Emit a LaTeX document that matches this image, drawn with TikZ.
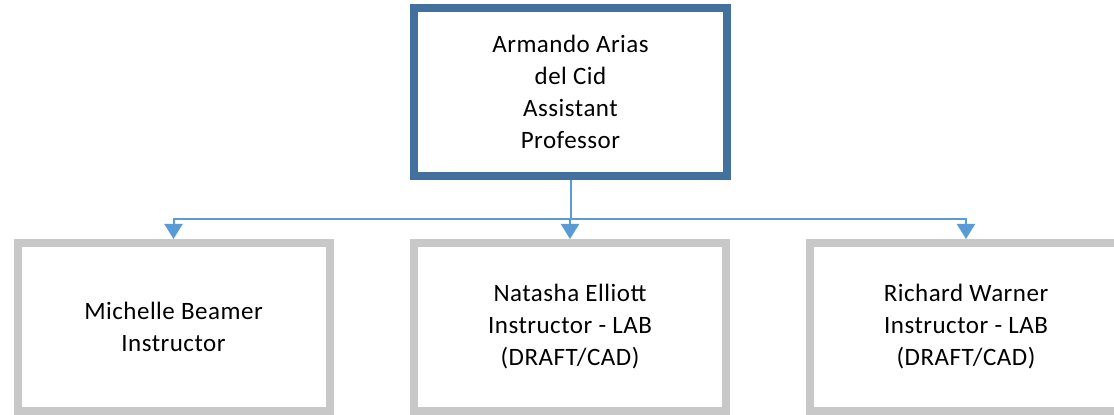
\documentclass[tikz,border=0pt]{standalone}
\usepackage{fontspec}
\setmainfont{Carlito}[LetterSpace=2]
\usetikzlibrary{arrows.meta}
\definecolor{topblue}{RGB}{65,113,156}
\definecolor{linkblue}{RGB}{91,155,213}
\definecolor{boxgray}{RGB}{200,200,200}
\tikzset{
  x=1pt, y=1pt,
  txt/.style={align=center, font=\fontsize{25}{32}\selectfont, text=black},
  headbox/.style={txt, draw=topblue, line width=8pt, fill=white, minimum width=313pt, minimum height=168pt, inner sep=0pt},
  staffbox/.style={txt, draw=boxgray, line width=8pt, fill=white, minimum width=312pt, minimum height=168pt, inner sep=0pt},
  link/.style={draw=linkblue, line width=2pt, -{Triangle[width=18pt,length=15pt]}}
}
\begin{document}
\begin{tikzpicture}
\useasboundingbox (0,0) rectangle (1114,415);
\clip (0,0) rectangle (1114,415);
\fill[white] (0,0) rectangle (1114,415);
\node[headbox] (head) at (570.5,323) {Armando Arias\\del Cid\\Assistant\\Professor};
\node[staffbox] (c1) at (173.5,88) {Michelle Beamer\\Instructor};
\node[staffbox] (c2) at (570,88) {Natasha Elliott\\Instructor - LAB\\(DRAFT/CAD)};
\node[staffbox] (c3) at (966,88) {Richard Warner\\Instructor - LAB\\(DRAFT/CAD)};
\coordinate (bus) at (head.south |- 0,196);
\draw[link] (head.south) -- (bus) -| (c1.north);
\draw[link] (head.south) -- (bus) -| (c2.north);
\draw[link] (head.south) -- (bus) -| (c3.north);
\end{tikzpicture}
\end{document}
